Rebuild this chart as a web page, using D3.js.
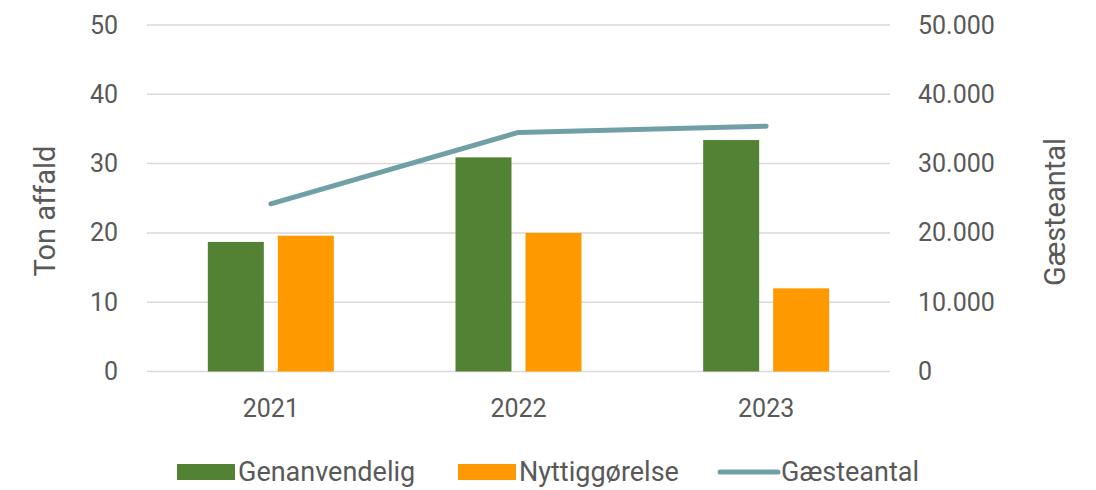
<!DOCTYPE html>
<html>
<head>
<meta charset="utf-8">
<script src="https://cdn.jsdelivr.net/npm/d3@7"></script>
<style>
  body { margin: 0; background: #fff; }
  svg text { font-family: Roboto, "Noto Sans", sans-serif; fill: #595959; }
</style>
</head>
<body>
<div id="chart"></div>
<script>
var years = ['2021', '2022', '2023'];
var genanvendelig = [18.7, 30.9, 33.4];
var nyttiggorelse = [19.6, 20.0, 12.0];
var gaesteantal = [24200, 34500, 35400];
var leftTicks = [0, 10, 20, 30, 40, 50];
var rightTicks = [0, 10000, 20000, 30000, 40000, 50000];

var width = 1096, height = 490;
var plotLeft = 147, plotRight = 890, plotTop = 25, plotBottom = 371.5;

var svg = d3.select('#chart').append('svg')
    .attr('width', width)
    .attr('height', height);

var x = d3.scaleBand().domain(years).range([plotLeft, plotRight]);
var yL = d3.scaleLinear().domain([0, 50]).range([plotBottom, plotTop]);
var yR = d3.scaleLinear().domain([0, 50000]).range([plotBottom, plotTop]);

var fmt = function(v){
    return d3.format(',')(v).replace(/,/g, '.');
};

// gridlines
svg.append('g').selectAll('line')
    .data(leftTicks)
    .enter()
    .append('line')
    .attr('x1', plotLeft).attr('x2', plotRight)
    .attr('y1', function(d){ return yL(d); })
    .attr('y2', function(d){ return yL(d); })
    .style('stroke', '#d9d9d9')
    .style('stroke-width', 1.5);

// left axis
var axL = svg.append('g')
    .attr('transform', 'translate(' + (plotLeft - 29) + ',0)')
    .call(d3.axisLeft(yL).tickValues(leftTicks).tickSize(0).tickPadding(0));
axL.select('.domain').remove();
axL.selectAll('text').style('font-size', '25px').style('fill', '#595959');

// right axis
var axR = svg.append('g')
    .attr('transform', 'translate(' + (plotRight + 28) + ',0)')
    .call(d3.axisRight(yR).tickValues(rightTicks).tickFormat(fmt).tickSize(0).tickPadding(0));
axR.select('.domain').remove();
axR.selectAll('text').style('font-size', '25px').style('fill', '#595959');

// x axis
var axX = svg.append('g')
    .attr('transform', 'translate(0,' + (plotBottom + 28) + ')')
    .call(d3.axisBottom(x).tickSize(0).tickPadding(0));
axX.select('.domain').remove();
axX.selectAll('text').style('font-size', '25px').style('fill', '#595959');

// bars
var barW = 56, gap = 14;
svg.append('g').selectAll('rect')
    .data(genanvendelig)
    .enter()
    .append('rect')
    .attr('x', function(d, i){ return x(years[i]) + x.bandwidth() / 2 - gap / 2 - barW; })
    .attr('y', function(d){ return yL(d); })
    .attr('width', barW)
    .attr('height', function(d){ return yL(0) - yL(d); })
    .style('fill', '#548235');

svg.append('g').selectAll('rect')
    .data(nyttiggorelse)
    .enter()
    .append('rect')
    .attr('x', function(d, i){ return x(years[i]) + x.bandwidth() / 2 + gap / 2; })
    .attr('y', function(d){ return yL(d); })
    .attr('width', barW)
    .attr('height', function(d){ return yL(0) - yL(d); })
    .style('fill', '#ff9900');

// line
var line = d3.line()
    .x(function(d, i){ return x(years[i]) + x.bandwidth() / 2; })
    .y(function(d){ return yR(d); });

svg.append('path')
    .datum(gaesteantal)
    .attr('d', line)
    .style('fill', 'none')
    .style('stroke', '#70a0a6')
    .style('stroke-width', 5)
    .style('stroke-linecap', 'round')
    .style('stroke-linejoin', 'round');

// axis titles
svg.append('text')
    .attr('transform', 'translate(55,211) rotate(-90)')
    .attr('text-anchor', 'middle')
    .style('font-size', '29px')
    .text('Ton affald');

svg.append('text')
    .attr('transform', 'translate(1065,212) rotate(-90)')
    .attr('text-anchor', 'middle')
    .style('font-size', '29px')
    .text('Gæsteantal');

// legend
var legend = [
    {name: 'Genanvendelig', color: '#548235', type: 'rect', x: 177},
    {name: 'Nyttiggørelse', color: '#ff9900', type: 'rect', x: 458},
    {name: 'Gæsteantal', color: '#70a0a6', type: 'line', x: 718}
];

var lg = svg.append('g').selectAll('g')
    .data(legend)
    .enter()
    .append('g')
    .attr('transform', function(d){ return 'translate(' + d.x + ',472)'; });

lg.filter(function(d){ return d.type === 'rect'; })
    .append('rect')
    .attr('x', 0).attr('y', -8)
    .attr('width', 58).attr('height', 16)
    .style('fill', function(d){ return d.color; });

lg.filter(function(d){ return d.type === 'line'; })
    .append('line')
    .attr('x1', 2).attr('x2', 60)
    .attr('y1', 0).attr('y2', 0)
    .style('stroke', function(d){ return d.color; })
    .style('stroke-width', 5)
    .style('stroke-linecap', 'round');

lg.append('text')
    .attr('x', function(d){ return d.type === 'line' ? 63 : 61; })
    .attr('dy', '0.35em')
    .style('font-size', '27px')
    .text(function(d){ return d.name; });
</script>
</body>
</html>
